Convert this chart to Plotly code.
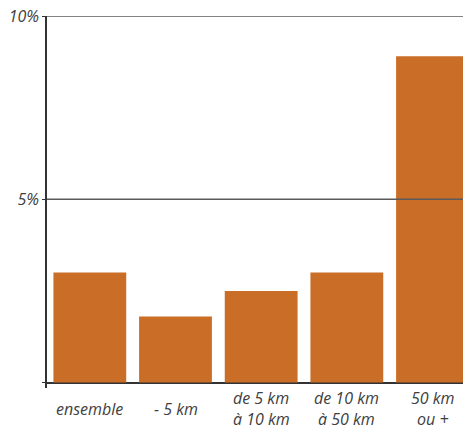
import plotly.graph_objects as go

# Share by distance class (%)
categories = ["ensemble", "- 5 km", "de 5 km\nà 10 km", "de 10 km\nà 50 km", "50 km\nou +"]
values = [3.0, 1.8, 2.5, 3.0, 8.9]
y_tick_vals = [0, 5, 10]
y_tick_text = ["", "5%", "10%"]

bar_color = "#C96D27"
text_color = "#404040"
font_family = "Open Sans, Noto Sans, sans-serif"

xs = list(range(len(categories)))

fig = go.Figure(
    go.Bar(
        x=xs,
        y=values,
        marker=dict(color=bar_color, line=dict(width=0)),
        hoverinfo="skip",
    )
)

# Category labels, one annotation per line, centred vertically under each bar
line_gap = 21
for x, label in zip(xs, categories):
    lines = label.split("\n")
    n = len(lines)
    for i, line in enumerate(lines):
        offset = (i - (n - 1) / 2) * line_gap
        fig.add_annotation(
            x=x, y=0, xref="x", yref="y",
            text=f"<i>{line}</i>",
            showarrow=False,
            xanchor="center", yanchor="middle",
            yshift=-26 - offset,
            font=dict(family=font_family, size=16, color=text_color),
        )

# Horizontal reference lines drawn over the bars
for v in y_tick_vals[1:]:
    fig.add_shape(
        type="line", xref="paper", yref="y",
        x0=0, x1=1, y0=v, y1=v,
        line=dict(color="#5a5a5a", width=1.5),
        layer="above",
    )

fig.update_layout(
    width=463, height=430,
    margin=dict(l=47, r=0, t=16, b=42),
    paper_bgcolor="white",
    plot_bgcolor="white",
    bargap=0.15,
    showlegend=False,
    font=dict(family=font_family, size=16, color=text_color),
)

fig.update_xaxes(
    range=[-0.5, 4.356],
    showticklabels=False,
    showgrid=False,
    zeroline=False,
    showline=False,
    ticks="",
)

fig.update_yaxes(
    range=[-0.15, 10],
    tickvals=y_tick_vals,
    ticktext=[f"<i>{t}</i>" if t else "" for t in y_tick_text],
    showgrid=False,
    zeroline=True,
    zerolinecolor="#333333",
    zerolinewidth=1.5,
    showline=True,
    linecolor="#333333",
    linewidth=1.5,
    ticks="outside",
    ticklen=3,
    tickcolor="#333333",
    ticklabelstandoff=0,
    tickfont=dict(family=font_family, size=16, color=text_color),
)

fig.write_html("out.html")
